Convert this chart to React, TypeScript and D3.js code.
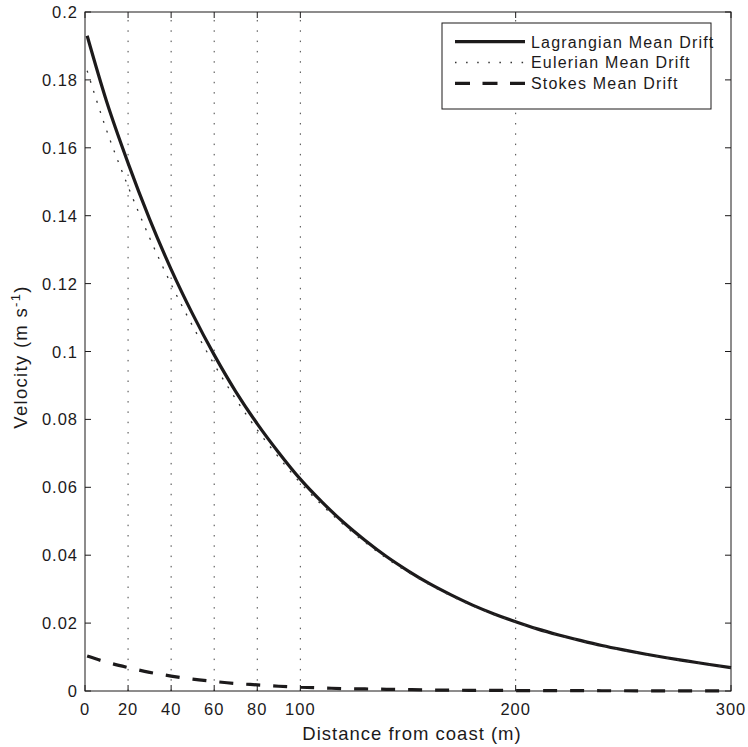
import React from "react";
import * as d3 from "d3";

const distance = [1, 10, 20, 30, 40, 50, 60, 70, 80, 90, 100, 110, 120, 130, 140, 150, 160, 170, 180, 190, 200, 210, 220, 230, 240, 250, 260, 270, 280, 290, 300];
const lagrangian = [0.1930, 0.1737, 0.1555, 0.1390, 0.1242, 0.1110, 0.0990, 0.0882, 0.0787, 0.0702, 0.0624, 0.0557, 0.0497, 0.0444, 0.0396, 0.0354, 0.0316, 0.0283, 0.0253, 0.0227, 0.0204, 0.0183, 0.0165, 0.0149, 0.0134, 0.0121, 0.0109, 0.0098, 0.0088, 0.0078, 0.0069];
const eulerian = [0.1827, 0.1652, 0.1486, 0.1335, 0.1198, 0.1075, 0.0962, 0.0860, 0.0769, 0.0688, 0.0613, 0.0548, 0.0490, 0.0438, 0.0391, 0.0350, 0.0313, 0.0280, 0.0251, 0.0225, 0.0203, 0.0182, 0.0164, 0.0148, 0.0133, 0.0120, 0.0108, 0.0097, 0.0087, 0.0077, 0.0068];
const stokes = [0.0103, 0.0085, 0.0069, 0.0055, 0.0044, 0.0035, 0.0028, 0.0022, 0.0018, 0.0014, 0.0011, 0.0009, 0.0007, 0.0006, 0.0005, 0.0004, 0.0003, 0.00025, 0.0002, 0.00017, 0.00014, 0.00012, 0.0001, 0.00009, 0.00008, 0.00007, 0.00006, 0.00005, 0.00005, 0.00004, 0.00004];

const xTicks = [0, 20, 40, 60, 80, 100, 200, 300];
const xGrid = [20, 40, 60, 80, 100, 200];
const yTicks = [0, 0.02, 0.04, 0.06, 0.08, 0.1, 0.12, 0.14, 0.16, 0.18, 0.2];
const seriesNames = ["Lagrangian Mean Drift", "Eulerian Mean Drift", "Stokes Mean Drift"];

const W = 748, H = 747;
const L = 85, R = 731, T = 12, B = 691;
const font = "'Liberation Sans', Arial, Helvetica, sans-serif";
const ink = "#1c1a1b";

export default function App() {
  const x = d3.scaleLinear().domain([0, 300]).range([L, R]);
  const y = d3.scaleLinear().domain([0, 0.2]).range([B, T]);
  const mk = (vals: number[]) =>
    d3.line<number>().x((_, i) => x(distance[i])).y((v) => y(v)).curve(d3.curveMonotoneX)(vals) || "";

  const styles = [
    { stroke: ink, width: 3.2, dash: undefined as string | undefined },
    { stroke: "#333", width: 1.3, dash: "2,8.5" },
    { stroke: ink, width: 3.2, dash: "14,13" },
  ];
  const data = [lagrangian, eulerian, stokes];
  const tickLen = 6;
  const yFmt = (v: number) => String(+v.toFixed(2));

  return (
    <svg width={W} height={H} style={{ position: "absolute", left: 0, top: 0, background: "#fff" }}>
      <rect x={0} y={0} width={W} height={H} fill="#fff" />
      {xGrid.map((g) => (
        <line key={"g" + g} x1={x(g)} x2={x(g)} y1={B} y2={T} stroke="#444" strokeWidth={1} strokeDasharray="1.5,8.8" />
      ))}
      {data.map((d, i) => (
        <path key={"s" + i} d={mk(d)} fill="none" stroke={styles[i].stroke} strokeWidth={styles[i].width}
          strokeDasharray={styles[i].dash} strokeLinejoin="round" />
      ))}
      <rect x={L} y={T} width={R - L} height={B - T} fill="none" stroke={ink} strokeWidth={1} />
      {xTicks.map((t) => (
        <g key={"xt" + t}>
          <line x1={x(t)} x2={x(t)} y1={B} y2={B - tickLen} stroke={ink} strokeWidth={1} />
          <line x1={x(t)} x2={x(t)} y1={T} y2={T + tickLen} stroke={ink} strokeWidth={1} />
          <text x={x(t)} y={715} textAnchor="middle" fontFamily={font} fontSize={16.5} letterSpacing={1} fill={ink}>{t}</text>
        </g>
      ))}
      {yTicks.map((t) => (
        <g key={"yt" + t}>
          <line x1={L} x2={L + tickLen} y1={y(t)} y2={y(t)} stroke={ink} strokeWidth={1} />
          <line x1={R} x2={R - tickLen} y1={y(t)} y2={y(t)} stroke={ink} strokeWidth={1} />
          <text x={78} y={y(t) + 6} textAnchor="end" fontFamily={font} fontSize={16.5} letterSpacing={1} fill={ink}>{yFmt(t)}</text>
        </g>
      ))}
      <text x={(L + R) / 2 + 4} y={740} textAnchor="middle" fontFamily={font} fontSize={18.5} letterSpacing={1} fill={ink}>
        Distance from coast (m)
      </text>
      <text transform={`translate(27,357) rotate(-90)`} textAnchor="middle" fontFamily={font} fontSize={18.5} letterSpacing={1.3} fill={ink}>
        Velocity (m s<tspan dy={-7} fontSize={13}>-1</tspan><tspan dy={7}>)</tspan>
      </text>
      <g>
        <rect x={442} y={23} width={269} height={86} fill="#fff" stroke={ink} strokeWidth={1} />
        {seriesNames.map((n, i) => {
          const cy = 41.7 + i * 20.8;
          return (
            <g key={"lg" + i}>
              <line x1={455} x2={525} y1={cy} y2={cy} stroke={styles[i].stroke} strokeWidth={styles[i].width}
                strokeDasharray={i === 1 ? "1.5,9.6" : i === 2 ? "15,12.5" : undefined} />
              <text x={531} y={cy + 5.8} fontFamily={font} fontSize={16} letterSpacing={1.2} fill={ink}>{n}</text>
            </g>
          );
        })}
      </g>
    </svg>
  );
}
